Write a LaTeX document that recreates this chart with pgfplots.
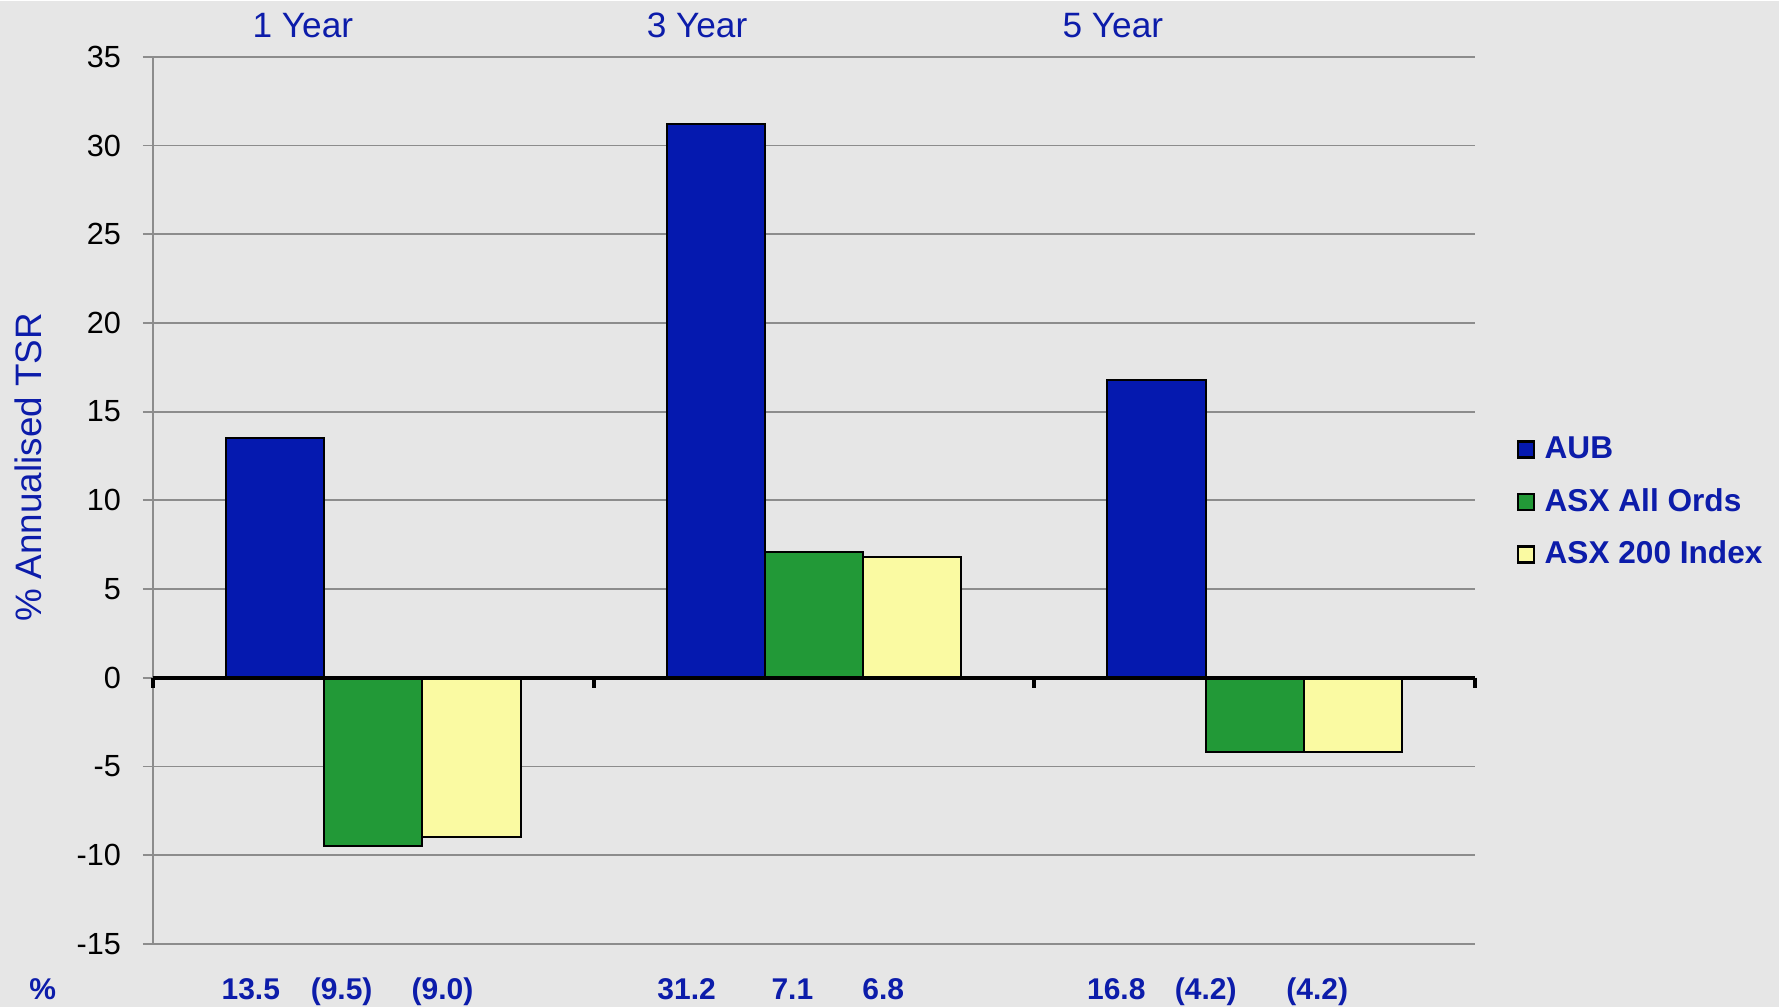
\documentclass[border=0pt]{standalone}
\usepackage{fontspec}
\setmainfont{Liberation Sans}
\usepackage{pgfplots}
\pgfplotsset{compat=1.18}
\usetikzlibrary{backgrounds}
\definecolor{bgc}{RGB}{230,230,230}
\definecolor{txtblue}{RGB}{12,28,170}
\definecolor{aub}{RGB}{5,25,175}
\definecolor{ords}{RGB}{34,153,55}
\definecolor{asx}{RGB}{250,250,162}
\definecolor{gridc}{RGB}{140,140,140}
\tikzset{
 vlab/.style={anchor=base, yshift=-14pt, font=\fontsize{7.5}{9}\selectfont\bfseries, text=txtblue, inner sep=0pt},
 clab/.style={yshift=7.75pt, font=\fontsize{8.8}{10}\selectfont, text=txtblue},
}
\begin{document}
\begin{tikzpicture}
\begin{axis}[name=ax, scale only axis, width=330.5pt, height=221.75pt,
 xmin=-0.5, xmax=2.5, ymin=-15, ymax=35, ytick={-15,-10,...,35},
 axis y line*=left, axis x line=none, xtick=\empty,
 y axis line style={gridc, line width=0.5pt, -},
 ymajorgrids, major grid style={gridc, line width=0.45pt},
 tick align=outside, major tick length=2.5pt, ytick style={gridc, line width=0.45pt},
 yticklabel style={font=\fontsize{7.65}{9}\selectfont, black, xshift=-2pt},
 /pgf/number format/assume math mode=true,
 clip=false,
 legend style={at={(rel axis cs:1.0312,0.498)}, anchor=west, draw=none, fill=none, inner sep=0pt,
   font=\fontsize{7.9}{9}\selectfont\bfseries, text=txtblue, row sep=3.6pt,
   nodes={inner sep=1pt, text height=6pt, text depth=1.5pt},
   /tikz/every odd column/.append style={column sep=1.3pt}},
 legend cell align=left,
 legend image code/.code={\draw[#1, draw=black, line width=0.6pt] (0pt,-2pt) rectangle (4pt,2pt);},
]
\addplot[ybar, bar width=0.223, bar shift=-0.223, fill=aub, draw=black, line width=0.5pt] coordinates {(0,13.5) (1,31.2) (2,16.8)};
\addlegendentry{AUB}
\addplot[ybar, bar width=0.223, bar shift=0, fill=ords, draw=black, line width=0.5pt] coordinates {(0,-9.5) (1,7.1) (2,-4.2)};
\addlegendentry{ASX All Ords}
\addplot[ybar, bar width=0.223, bar shift=0.223, fill=asx, draw=black, line width=0.5pt] coordinates {(0,-9.0) (1,6.8) (2,-4.2)};
\addlegendentry{ASX 200 Index}
\draw[black, line width=1pt] (axis cs:-0.5,0) -- (axis cs:2.5,0);
\draw[black, line width=1pt] (axis cs:-0.5,0) -- ++(0pt,-2.5pt);
\draw[black, line width=1pt] (axis cs:0.5,0) -- ++(0pt,-2.5pt);
\draw[black, line width=1pt] (axis cs:1.5,0) -- ++(0pt,-2.5pt);
\draw[black, line width=1pt] (axis cs:2.5,0) -- ++(0pt,-2.5pt);
\node[rotate=90, font=\fontsize{9.2}{11}\selectfont, text=txtblue] at ([xshift=-31.25pt]rel axis cs:0,0.537) {\% Annualised TSR};
\node[clab] at (axis cs:-0.160,35) {1 Year};
\node[clab] at (axis cs:0.7345,35) {3 Year};
\node[clab] at (axis cs:1.678,35) {5 Year};
\node[vlab] at (axis cs:-0.75,-15) {\%};
\node[vlab] at (axis cs:-0.278,-15) {13.5};
\node[vlab] at (axis cs:-0.072,-15) {(9.5)};
\node[vlab] at (axis cs:0.157,-15) {(9.0)};
\node[vlab] at (axis cs:0.711,-15) {31.2};
\node[vlab] at (axis cs:0.951,-15) {7.1};
\node[vlab] at (axis cs:1.157,-15) {6.8};
\node[vlab] at (axis cs:1.686,-15) {16.8};
\node[vlab] at (axis cs:1.889,-15) {(4.2)};
\node[vlab] at (axis cs:2.142,-15) {(4.2)};
\end{axis}
\begin{scope}[on background layer]
\fill[bgc] ([shift={(-38.25pt,-15.75pt)}]ax.south west) rectangle ([shift={(76pt,14pt)}]ax.north east);
\end{scope}
\end{tikzpicture}
\end{document}
